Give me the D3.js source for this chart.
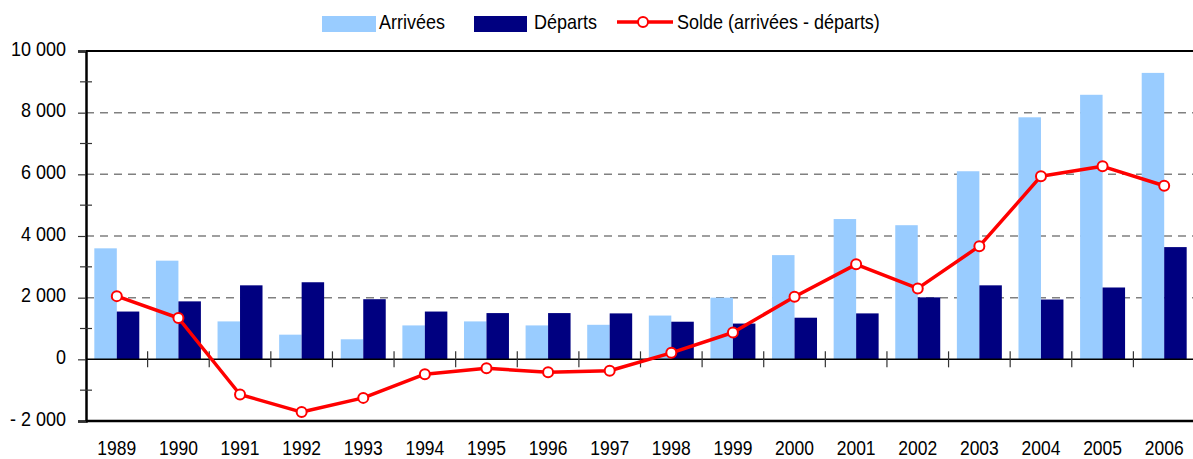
<!DOCTYPE html>
<html lang="fr">
<head>
    <meta charset="UTF-8">
    <title>Arrivées et départs</title>
    <script src="https://d3js.org/d3.v7.min.js"></script>
    <style>
        body { margin: 0; background: #fff; }
        svg text { font-family: "Liberation Sans", Arial, sans-serif; fill: #000; }
    </style>
</head>
<body>
    <svg id="chart"></svg>
    <script>
    // Values
    const years = ["1989","1990","1991","1992","1993","1994","1995","1996","1997",
                   "1998","1999","2000","2001","2002","2003","2004","2005","2006"];
    const arrivees = [3600, 3200, 1230, 800, 650, 1100, 1230, 1100, 1120,
                      1420, 2000, 3380, 4550, 4350, 6100, 7850, 8580, 9290];
    const departs = [1550, 1880, 2400, 2500, 1950, 1550, 1500, 1500, 1490,
                     1220, 1160, 1350, 1490, 2010, 2400, 1940, 2330, 3640];
    const solde = [2050, 1340, -1140, -1710, -1250, -480, -290, -420, -370,
                   210, 870, 2030, 3080, 2300, 3670, 5940, 6260, 5630];
    const majorTicks = [-2000, 0, 2000, 4000, 6000, 8000, 10000];
    const minorTicks = [-1000, 1000, 3000, 5000, 7000, 9000];
    const gridTicks = [2000, 4000, 6000, 8000];
    const seriesNames = ["Arrivées", "Départs", "Solde (arrivées - départs)"];

    const width = 1193, height = 459;
    const plotLeft = 86, plotRight = 1195, plotTop = 51, plotBottom = 421;
    const stretch = 1.15; // the source text is taller than it is wide

    const svg = d3.select('#chart').attr('width', width).attr('height', height);

    const x = d3.scaleBand().domain(years).range([plotLeft, plotRight]).padding(0);
    const x1 = d3.scaleBand().domain(['arr', 'dep'])
        .range([0, x.bandwidth()]).paddingInner(0).paddingOuter(0.37);
    const y = d3.scaleLinear().domain([-2000, 10000]).range([plotBottom, plotTop]);

    const fr = d3.formatLocale({ decimal: ",", thousands: " ", grouping: [3], currency: ["", " €"] });
    const fmt = fr.format(",d");
    const yLabel = d => d < 0 ? "- " + fmt(-d) : fmt(d);

    // dashed grid
    svg.append('g').selectAll('line')
        .data(gridTicks)
        .enter().append('line')
        .attr('x1', plotLeft).attr('x2', plotRight)
        .attr('y1', d => y(d)).attr('y2', d => y(d))
        .attr('stroke', '#808080')
        .attr('stroke-width', 1.5)
        .attr('stroke-dasharray', '8,6');

    // bars
    const groups = svg.append('g').selectAll('g')
        .data(years)
        .enter().append('g')
        .attr('transform', d => `translate(${x(d)},0)`);
    groups.append('rect')
        .attr('x', x1('arr'))
        .attr('y', (d, i) => y(arrivees[i]))
        .attr('width', x1.bandwidth())
        .attr('height', (d, i) => y(0) - y(arrivees[i]))
        .attr('fill', '#99CCFF');
    groups.append('rect')
        .attr('x', x1('dep'))
        .attr('y', (d, i) => y(departs[i]))
        .attr('width', x1.bandwidth())
        .attr('height', (d, i) => y(0) - y(departs[i]))
        .attr('fill', '#000080');

    // frame: top and bottom borders, zero line
    svg.append('line').attr('x1', plotLeft).attr('x2', plotRight)
        .attr('y1', y(10000)).attr('y2', y(10000))
        .attr('stroke', '#000').attr('stroke-width', 2);
    svg.append('line').attr('x1', plotLeft).attr('x2', plotRight)
        .attr('y1', y(-2000)).attr('y2', y(-2000))
        .attr('stroke', '#000').attr('stroke-width', 2.5);
    svg.append('line').attr('x1', plotLeft).attr('x2', plotRight)
        .attr('y1', y(0)).attr('y2', y(0))
        .attr('stroke', '#000').attr('stroke-width', 1.5);

    // category ticks crossing the zero line
    svg.append('g').selectAll('line')
        .data(years.slice(1))
        .enter().append('line')
        .attr('x1', d => x(d)).attr('x2', d => x(d))
        .attr('y1', y(0) - 8).attr('y2', y(0) + 8)
        .attr('stroke', '#333').attr('stroke-width', 1.2);

    // y axis
    const yAxis = svg.append('g')
        .attr('transform', `translate(${plotLeft},0)`)
        .call(d3.axisLeft(y).tickValues(majorTicks).tickSize(8).tickPadding(12).tickFormat(yLabel));
    yAxis.select('.domain').attr('stroke', '#000').attr('stroke-width', 2.5);
    yAxis.selectAll('.tick line').attr('stroke', '#333').attr('stroke-width', 1.2);
    yAxis.selectAll('.tick text')
        .attr('dy', '0.3em')
        .attr('transform', `translate(0,-2) scale(1,${stretch})`)
        .style('font-size', '18px');
    yAxis.attr('font-size', null).attr('font-family', null);

    svg.append('g').selectAll('line')
        .data(minorTicks)
        .enter().append('line')
        .attr('x1', plotLeft - 6).attr('x2', plotLeft + 6)
        .attr('y1', d => y(d)).attr('y2', d => y(d))
        .attr('stroke', '#333').attr('stroke-width', 1.2);

    // year labels
    svg.append('g').selectAll('text')
        .data(years)
        .enter().append('text')
        .attr('transform', d => `translate(${x(d) + x.bandwidth() / 2},455) scale(1,${stretch})`)
        .attr('text-anchor', 'middle')
        .style('font-size', '17.5px')
        .text(d => d);

    // solde line
    const pts = years.map((d, i) => [x(d) + x.bandwidth() / 2, y(solde[i])]);
    svg.append('path')
        .attr('d', d3.line()(pts))
        .attr('fill', 'none')
        .attr('stroke', '#FF0000')
        .attr('stroke-width', 3.5)
        .attr('stroke-linejoin', 'round');
    svg.append('g').selectAll('circle')
        .data(pts)
        .enter().append('circle')
        .attr('cx', d => d[0]).attr('cy', d => d[1])
        .attr('r', 5)
        .attr('fill', '#fff')
        .attr('stroke', '#FF0000')
        .attr('stroke-width', 2);

    // legend
    const legend = svg.append('g');
    legend.append('rect').attr('x', 322).attr('y', 16).attr('width', 54).attr('height', 16).attr('fill', '#99CCFF');
    legend.append('rect').attr('x', 474).attr('y', 16).attr('width', 53).attr('height', 16).attr('fill', '#000080');
    legend.append('line').attr('x1', 617).attr('x2', 673).attr('y1', 22).attr('y2', 22)
        .attr('stroke', '#FF0000').attr('stroke-width', 3.5);
    legend.append('circle').attr('cx', 643).attr('cy', 22).attr('r', 5)
        .attr('fill', '#fff').attr('stroke', '#FF0000').attr('stroke-width', 2);
    [[379, seriesNames[0]], [534, seriesNames[1]], [677, seriesNames[2]]].forEach(([lx, name]) => {
        legend.append('text')
            .attr('transform', `translate(${lx},29) scale(1,${stretch})`)
            .style('font-size', '18px')
            .text(name);
    });
    </script>
</body>
</html>
